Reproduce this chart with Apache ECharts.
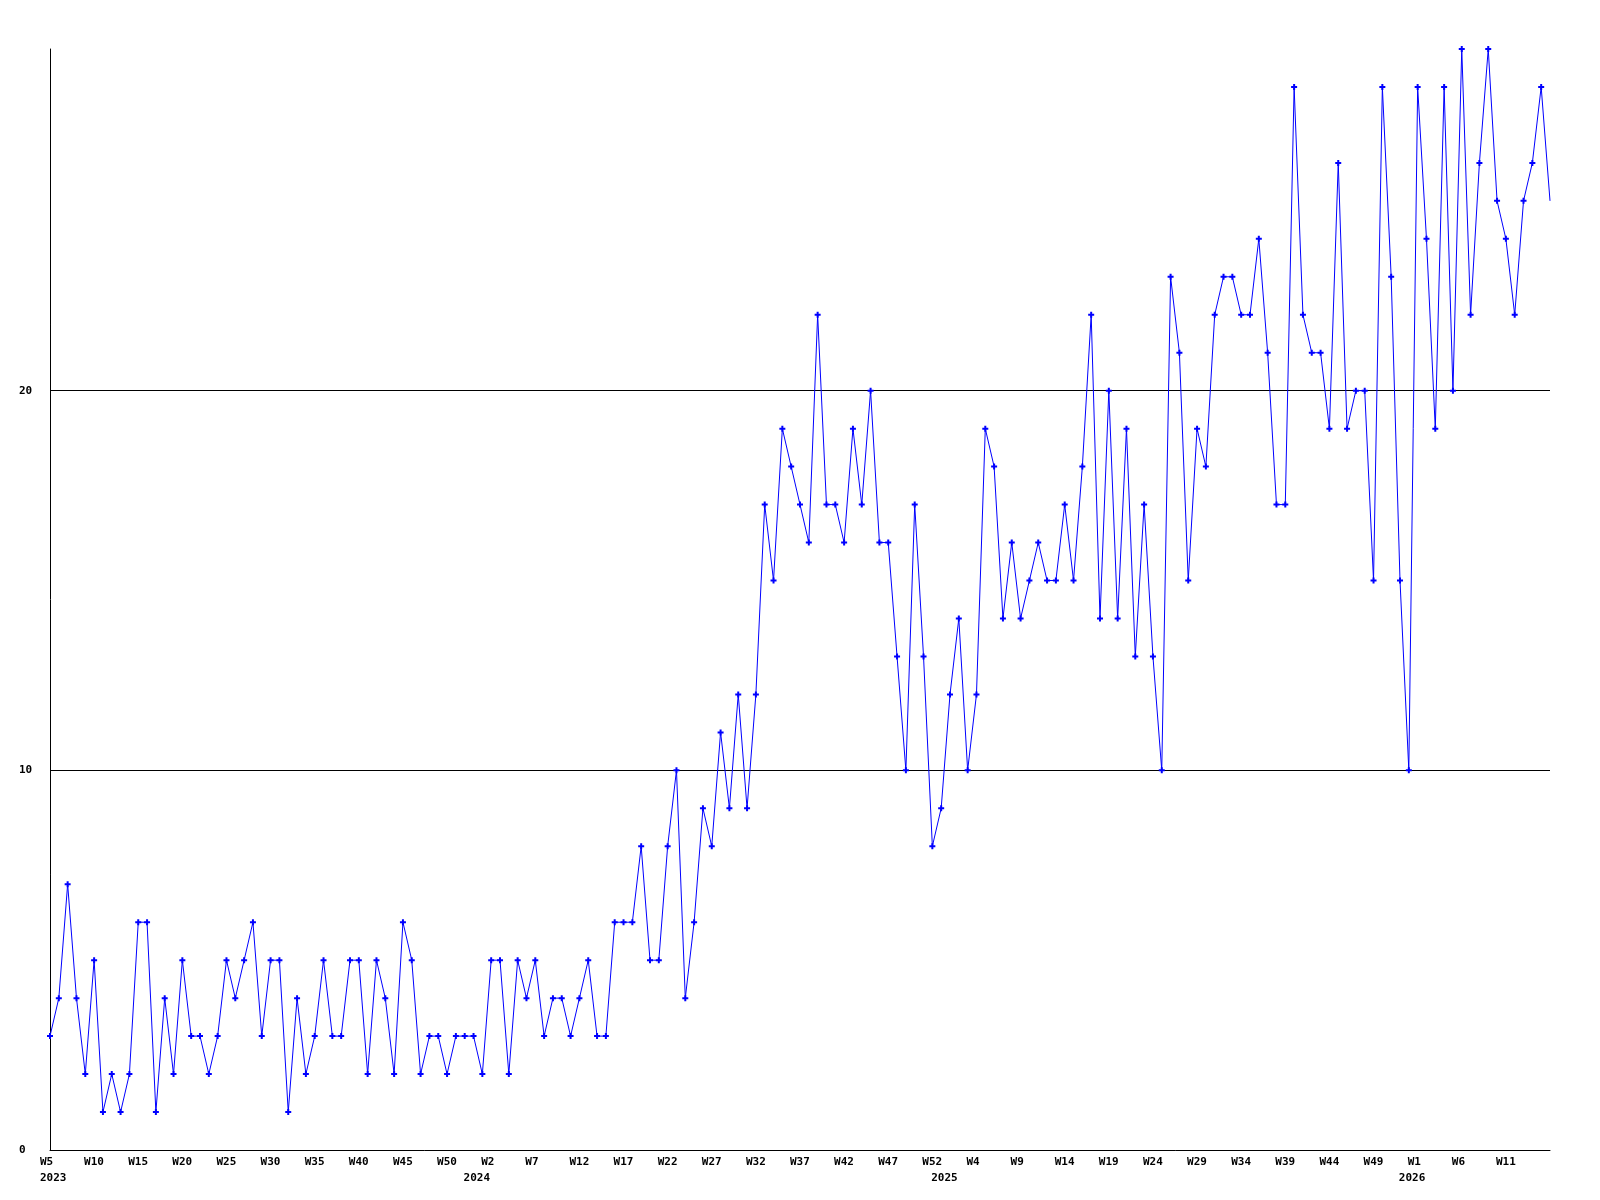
<!DOCTYPE html>
<html><head><meta charset="utf-8">
<script src="https://cdn.jsdelivr.net/npm/echarts@6/dist/echarts.min.js"></script>
<style>html,body{margin:0;padding:0;background:#fff}#c{width:1600px;height:1200px}</style>
</head><body><div id="c"></div>
<script>
// Week ranges per year (category labels)
const years = [2023, 2024, 2025, 2026];
const firstWeek = [5, 0, 0, 0];
const lastWeek = [52, 52, 52, 16];

// Weekly values, one per category
const values2023 = [3,4,7,4,2,5,1,2,1,2,6,6,1,4,2,5,3,3,2,3,5,4,5,6,3,5,5,1,4,2,3,5,3,3,5,5,2,5,4,2,6,5,2,3,3,2,3,3];
const values2024 = [3,2,5,5,2,5,4,5,3,4,4,3,4,5,3,3,6,6,6,8,5,5,8,10,4,6,9,8,11,9,12,9,12,17,15,19,18,17,16,22,17,17,16,19,17,20,16,16,13,10,17,13,8];
const values2025 = [9,12,14,10,12,19,18,14,16,14,15,16,15,15,17,15,18,22,14,20,14,19,13,17,13,10,23,21,15,19,18,22,23,23,22,22,24,21,17,17,28,22,21,21,19,26,19,20,20,15,28,23,15];
const values2026 = [10,28,24,19,28,20,29,22,26,29,25,24,22,25,26,28,25];

const yTicks = [0, 10, 20];
const yMax = 29;

const weekLabels = [];
const yearStart = {};
years.forEach((y, k) => {
  yearStart[weekLabels.length] = String(y);
  for (let w = firstWeek[k]; w <= lastWeek[k]; w++) weekLabels.push('W' + w);
});
const values = values2023.concat(values2024, values2025, values2026);
const seriesData = values.map((v, i) => i === values.length - 1 ? {value: v, symbol: 'none'} : v);

const font = {fontFamily: 'DejaVu Sans Mono', fontWeight: 'bold', fontSize: 11, color: '#000'};

const chart = echarts.init(document.getElementById('c'), null, {renderer: 'canvas'});
chart.setOption({
  animation: false,
  backgroundColor: '#fff',
  grid: {left: 50, right: 50, top: 49, bottom: 50, containLabel: false},
  xAxis: [{
    type: 'category', data: weekLabels, boundaryGap: false, position: 'bottom',
    axisLine: {show: true, lineStyle: {color: '#000', width: 1}},
    axisTick: {show: false},
    splitLine: {show: false},
    axisLabel: Object.assign({
      interval: (i) => i % 5 === 0 && i < weekLabels.length - 1,
      align: 'left', padding: [0, 0, 0, -10], margin: 7
    }, font)
  }, {
    type: 'category', data: weekLabels, boundaryGap: false, position: 'bottom',
    axisLine: {show: false}, axisTick: {show: false}, splitLine: {show: false},
    axisLabel: Object.assign({
      interval: (i) => yearStart[i] !== undefined,
      formatter: (v, i) => yearStart[i] || '',
      align: 'left', padding: [0, 0, 0, -10], margin: 23
    }, font)
  }],
  yAxis: {
    type: 'value', min: 0, max: yMax, interval: 10,
    axisLine: {show: true, lineStyle: {color: '#000', width: 1}},
    axisTick: {show: false},
    splitLine: {show: true, showMinLine: false, showMaxLine: false, lineStyle: {color: '#000', width: 1}},
    axisLabel: Object.assign({
      align: 'left', margin: 31, showMaxLabel: false,
      formatter: (v) => yTicks.indexOf(v) >= 0 ? String(v) : ''
    }, font)
  },
  series: [{
    type: 'line', data: seriesData, xAxisIndex: 0,
    symbol: 'path://M2,0H4V2H6V4H4V6H2V4H0V2H2Z', symbolSize: 6, showAllSymbol: true,
    lineStyle: {color: '#0000ff', width: 1},
    itemStyle: {color: '#0000ff'},
    emphasis: {disabled: true}
  }]
});
</script>
</body></html>
